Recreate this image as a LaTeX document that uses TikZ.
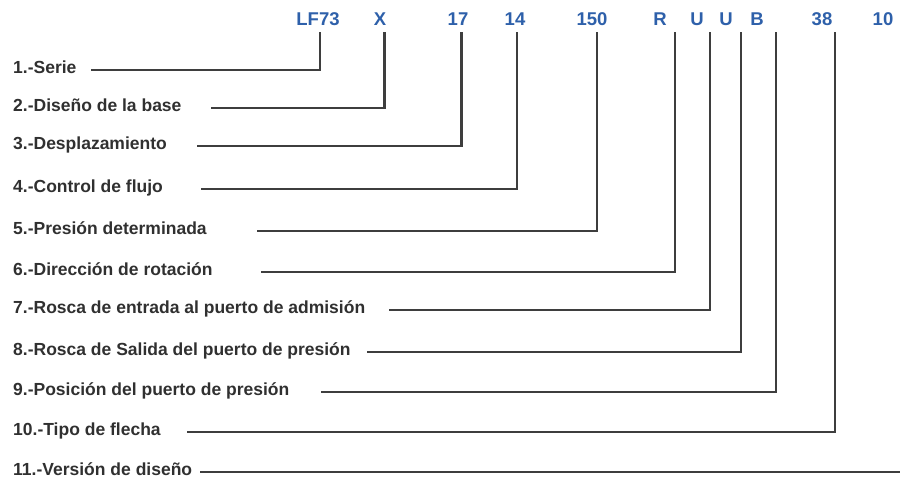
\documentclass[tikz,border=0pt]{standalone}
\usepackage{fontspec}
\setmainfont{Liberation Sans}
\definecolor{codeblue}{RGB}{46,96,170}
\definecolor{lbltext}{RGB}{48,48,48}
\definecolor{linegray}{RGB}{62,62,62}
\tikzset{
  codelbl/.style={anchor=base, inner xsep=0pt, inner ysep=7pt, text depth=0pt,
    font=\fontsize{18.5}{20}\selectfont\bfseries, text=codeblue},
  itemlbl/.style={anchor=west, inner sep=0pt, text height=10pt, text depth=3.4pt,
    font=\fontsize{17.5}{19}\selectfont\bfseries, text=lbltext},
  leader/.style={draw=linegray, line width=2.4pt, line cap=rect, line join=miter}
}
\begin{document}
\begin{tikzpicture}[x=1pt,y=1pt]
\useasboundingbox (0,0) rectangle (900,478);
% code characters
\node[codelbl] (c1) at (318,452) {LF73};
\node[codelbl] (c2) at (380,452) {X};
\node[codelbl] (c3) at (458,452) {17};
\node[codelbl] (c4) at (515,452) {14};
\node[codelbl] (c5) at (592,452) {150};
\node[codelbl] (c6) at (660,452) {R};
\node[codelbl] (c7) at (697,452) {U};
\node[codelbl] (c8) at (726,452) {U};
\node[codelbl] (c9) at (757,452) {B};
\node[codelbl] (c10) at (822,452) {38};
\node[codelbl] (c11) at (883,452) {10};
% item labels
\node[itemlbl] (l1) at (13,408) {1.-Serie};
\node[itemlbl] (l2) at (13,370) {2.-Diseño de la base};
\node[itemlbl] (l3) at (13,332) {3.-Desplazamiento};
\node[itemlbl] (l4) at (13,289) {4.-Control de flujo};
\node[itemlbl] (l5) at (13,247) {5.-Presión determinada};
\node[itemlbl] (l6) at (13,206) {6.-Dirección de rotación};
\node[itemlbl] (l7) at (13,168) {7.-Rosca de entrada al puerto de admisión};
\node[itemlbl] (l8) at (13,126) {8.-Rosca de Salida del puerto de presión};
\node[itemlbl] (l9) at (13,86) {9.-Posición del puerto de presión};
\node[itemlbl] (l10) at (13,46) {10.-Tipo de flecha};
\node[itemlbl] (l11) at (13,6) {11.-Versión de diseño};
% leader start points
\coordinate (s1) at (92,408);
\coordinate (s2) at (212,370);
\coordinate (s3) at (198,332);
\coordinate (s4) at (202,289);
\coordinate (s5) at (258,247);
\coordinate (s6) at (262,206);
\coordinate (s7) at (390,168);
\coordinate (s8) at (368,126);
\coordinate (s9) at (322,86);
\coordinate (s10) at (188,46);
\coordinate (s11) at (200,6);
\coordinate (e11) at (900,6);
% leaders
\draw[leader] (s1) -| ([xshift=2pt]c1.south);
\draw[leader] (s2) -| ([xshift=4.5pt]c2.south);
\draw[leader] (s3) -| ([xshift=3.5pt]c3.south);
\draw[leader] (s4) -| ([xshift=2pt]c4.south);
\draw[leader] (s5) -| ([xshift=5pt]c5.south);
\draw[leader] (s6) -| ([xshift=15pt]c6.south);
\draw[leader] (s7) -| ([xshift=13pt]c7.south);
\draw[leader] (s8) -| ([xshift=15pt]c8.south);
\draw[leader] (s9) -| ([xshift=19pt]c9.south);
\draw[leader] (s10) -| ([xshift=13pt]c10.south);
\draw[leader, line cap=butt] (s11) -- (e11);
\end{tikzpicture}
\end{document}
